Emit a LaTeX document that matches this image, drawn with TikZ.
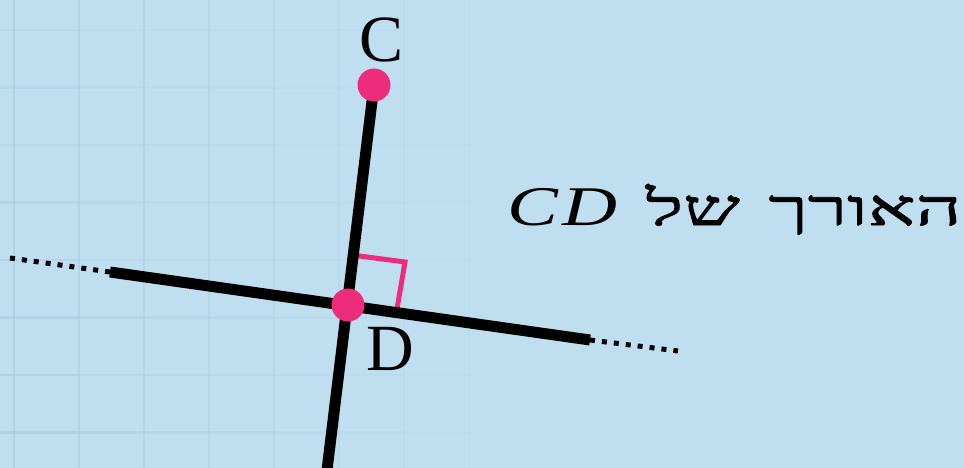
\documentclass[tikz,border=0pt]{standalone}
\usepackage{fontspec}
\setmainfont{Liberation Serif}
\newfontfamily\hebfont[Script=Hebrew,FakeBold=1.4]{Liberation Serif}
\TeXXeTstate=1
\definecolor{Sky}{HTML}{BFDFF1}
\definecolor{GridLine}{HTML}{A3C8DE}
\definecolor{Rose}{HTML}{EE2C7C}
\usetikzlibrary{calc}

\begin{document}
\begin{tikzpicture}[
  x=1pt,y=-1pt,
  gridline/.style={draw=GridLine,line width=2.5pt},
  segline/.style={draw=black,line width=11pt},
  dotline/.style={draw=black,line width=5pt,dash pattern=on 5pt off 7pt},
  rmark/.style={draw=Rose,line width=5pt,line join=miter},
  ptlabel/.style={font=\fontsize{66}{66}\selectfont,inner sep=0pt}
]
\fill[Sky] (0,0) rectangle (964,468);
\useasboundingbox (0,0) rectangle (964,468);
\foreach \k in {0,...,8}{
  \pgfmathsetmacro{\op}{max(0,0.55-0.065*\k)}
  \draw[gridline,opacity=\op] (14+65*\k,0) -- (14+65*\k,468);
  \foreach \j in {0,...,7}
    \draw[gridline,opacity=\op*(0.45+0.09*\j)] (65*\k-51,30+57.5*\j) -- (65*\k+14,30+57.5*\j);
}
\coordinate (C) at (374,85);
\coordinate (D) at (348,305);
\coordinate (B) at (327,470);
\coordinate (L1) at (10,258);
\coordinate (L2) at (110,272);
\coordinate (R1) at (590,340);
\coordinate (R2) at (678,351);
\draw[rmark] ($(D)+(4,-50)$) -- ($(D)+(57,-43)$) -- ($(D)+(49,4)$);
\draw[segline] (C) -- (B);
\draw[segline] (L2) -- (R1);
\draw[dotline] (L2) -- (L1);
\draw[dotline] (R1) -- (R2);
\fill[Rose] (C) circle (16.5);
\fill[Rose] (D) circle (16.5);
\node[ptlabel] (labC) at (382,40) {C};
\node[ptlabel] (labD) at (390,349) {D};
\node[inner sep=0pt,anchor=base east] (title) at (962,225)
  {\scalebox{1.6}[1]{\fontsize{50}{50}\selectfont\hebfont\beginR האורך\hskip 18pt של\hskip 18pt\beginL\scalebox{0.85}[1]{\fontsize{56}{56}\selectfont\normalfont\itshape C\kern3pt D}\endL\endR}};
\end{tikzpicture}
\end{document}
